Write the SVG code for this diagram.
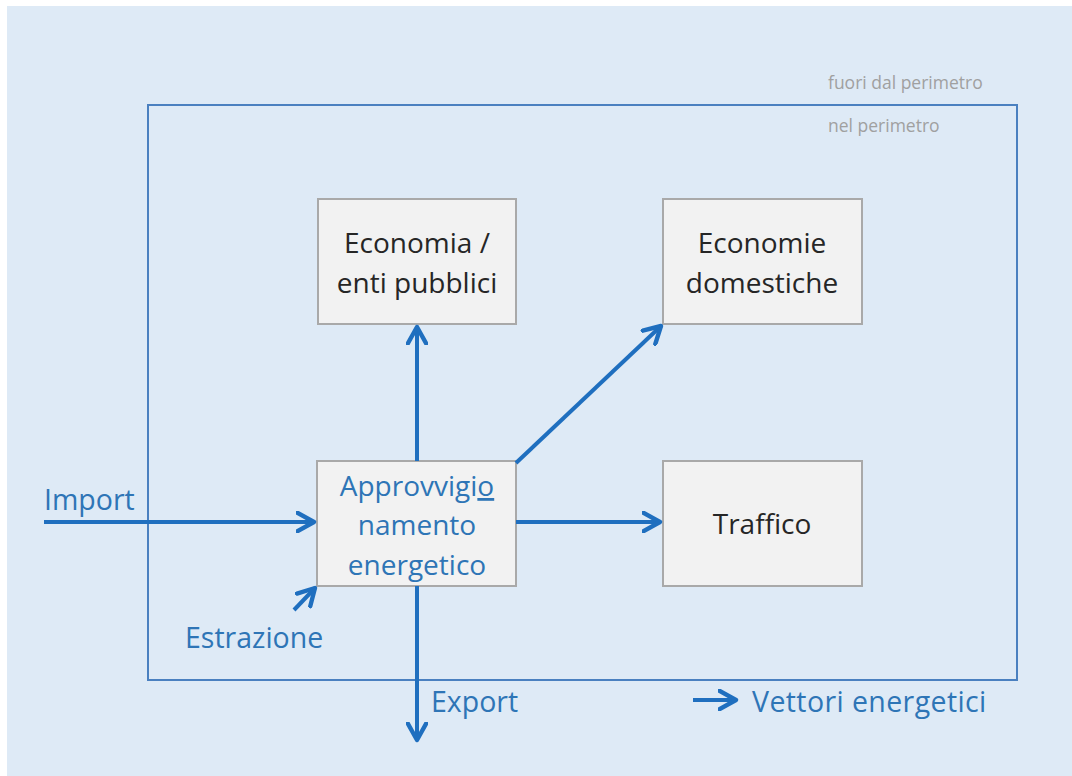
<svg xmlns="http://www.w3.org/2000/svg" width="1072" height="776" viewBox="0 0 1072 776">
<style>
.box{fill:#f2f2f2;stroke:#a9a9a9;stroke-width:2}
.bt{font-family:"Open Sans","Liberation Sans",sans-serif;font-size:28px;fill:#262626;text-anchor:middle}
.bl{font-family:"Open Sans","Liberation Sans",sans-serif;font-size:28.5px;fill:#2e75b6}
.gr{font-family:"Open Sans","Liberation Sans",sans-serif;font-size:17.5px;fill:#a0a0a0}
.ar{stroke:#1f6fbf;stroke-width:4;fill:none;marker-end:url(#ah)}
</style>
<defs>
<marker id="ah" viewBox="0 0 12 12" refX="10" refY="6" markerWidth="5.5" markerHeight="5.5" orient="auto" markerUnits="strokeWidth">
<path d="M1,1 L10,6 L1,11" fill="none" stroke="#1f6fbf" stroke-width="2.4" stroke-linecap="round" stroke-linejoin="round"/>
</marker>
</defs>
<rect x="0" y="0" width="1072" height="776" fill="#ffffff"/>
<rect x="7" y="6" width="1065" height="770" fill="#deeaf6"/>
<g id="perimeter">
<rect x="148" y="105" width="869" height="575" fill="none" stroke="#4a80c0" stroke-width="2"/>
<text class="gr" x="828" y="89">fuori dal perimetro</text>
<text class="gr" x="828" y="132">nel perimetro</text>
</g>
<g id="economia">
<rect class="box" x="318" y="199" width="198" height="125"/>
<text class="bt" x="417" y="253">Economia /</text>
<text class="bt" x="417" y="293">enti pubblici</text>
</g>
<g id="domestiche">
<rect class="box" x="663" y="199" width="199" height="125"/>
<text class="bt" x="762" y="253">Economie</text>
<text class="bt" x="762" y="293">domestiche</text>
</g>
<g id="traffico">
<rect class="box" x="663" y="461" width="199" height="125"/>
<text class="bt" x="762" y="534">Traffico</text>
</g>
<g id="approvvigionamento">
<rect class="box" x="317" y="461" width="199" height="125"/>
<text class="bt" x="417" y="496" style="fill:#2e75b6">Approvvigi<tspan text-decoration="underline">o</tspan></text>
<text class="bt" x="417" y="535" style="fill:#2e75b6">namento</text>
<text class="bt" x="417" y="575" style="fill:#2e75b6">energetico</text>
</g>
<g id="connectors">
<line class="ar" x1="44" y1="522" x2="314" y2="522"/>
<line class="ar" x1="417" y1="461" x2="417" y2="327"/>
<line class="ar" x1="516" y1="463" x2="661" y2="326"/>
<line class="ar" x1="516" y1="522" x2="660" y2="522"/>
<line class="ar" x1="417" y1="586" x2="417" y2="740"/>
<line class="ar" x1="294" y1="610" x2="315" y2="588"/>
<line class="ar" x1="693" y1="700" x2="736" y2="700"/>
</g>
<g id="labels">
<text class="bl" x="44" y="510">Import</text>
<text class="bl" x="185" y="648">Estrazione</text>
<text class="bl" x="431" y="712">Export</text>
<text class="bl" x="752" y="712" letter-spacing="0.4">Vettori energetici</text>
</g>
</svg>
